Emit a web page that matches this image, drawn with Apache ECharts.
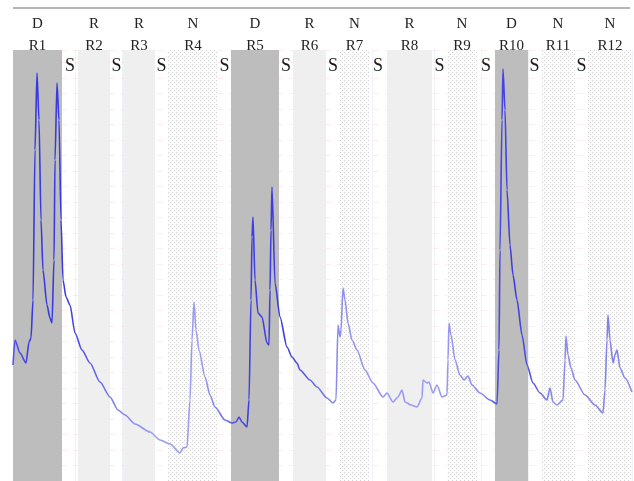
<!DOCTYPE html>
<html><head><meta charset="utf-8">
<script src="https://cdn.jsdelivr.net/npm/echarts@6/dist/echarts.min.js"></script>
<style>html,body{margin:0;padding:0;background:#fff}#c{width:634px;height:481px}</style>
</head><body><div id="c"></div>
<script>
// ---- data ----
const phaseTypes = ['D','R','R','N','D','R','N','R','N','D','N','N'];
const phaseNames = ['R1','R2','R3','R4','R5','R6','R7','R8','R9','R10','R11','R12'];
const phaseStart = [0, 65, 110, 155, 218, 280, 327, 374, 434, 482, 528, 575];
const phaseEnd   = [49, 97, 142, 205, 266, 313, 356, 419, 464, 515, 562, 619];
const gapLabel = 'S';
const timeVals = [0,2,7,13,16,18,20,22,24,26,28,30,34,37,39,41,42,44,46,48,50,53,57,62,69,77,87,97,105,112,122,137,147,157,167,170,174,177,179,181,183,186,192,197,202,212,219,223,226,229,234,236,238,239,240,242,245,249,254,256,257,258,259,262,267,274,279,284,287,297,304,314,320,323,325,327,328,330,332,335,339,344,352,360,370,374,380,385,389,392,398,404,409,410,414,416,420,424,429,434,435,436,438,442,447,451,455,459,467,477,484,486,487,489,490,492,494,497,500,504,509,514,520,527,534,537,540,544,550,552,553,555,558,562,572,582,590,592,594,595,597,600,602,604,607,612,619];
const signalVals = [116,141,128,118,139,143,181,331,408,361,261,211,176,163,158,221,321,398,361,261,201,184,176,148,131,118,99,84,71,66,57,49,41,37,28,33,34,81,141,179,151,131,104,86,74,61,58,59,64,59,54,81,181,244,264,201,168,164,138,136,191,251,294,198,164,134,124,118,111,101,94,83,78,81,156,144,151,193,181,158,141,131,111,98,84,88,79,84,91,79,76,74,83,101,98,99,88,96,84,86,121,158,146,121,106,101,105,96,88,81,77,131,231,361,412,371,291,236,206,181,146,116,98,88,81,93,79,76,81,121,145,126,113,101,86,76,68,91,141,166,141,118,126,131,113,103,89];

// ---- styles ----
const X_MAX = 619, Y_MAX = 431;
function dotPattern(){
  const c = document.createElement('canvas'); c.width = 4; c.height = 4;
  const g = c.getContext('2d');
  g.fillStyle = '#fcfcfc'; g.fillRect(0,0,4,4);
  g.fillStyle = '#d2d2d2'; g.fillRect(0,0,1,1); g.fillRect(2,2,1,1);
  return c;
}
const pat = dotPattern();
const bandColor = t => t === 'D' ? '#bdbdbd' : (t === 'R' ? '#efefef' : {image: pat, repeat: 'repeat'});
const serif = '"Liberation Serif", "DejaVu Serif", serif';

const phaseAreas = phaseTypes.map((t, i) => [
  { xAxis: phaseStart[i], name: t + '\n' + phaseNames[i], itemStyle: { color: bandColor(t) },
    label: { show: true, position: 'top', distance: -7, formatter: p => p.name,
      fontFamily: serif, fontSize: 15, lineHeight: 22, color: '#222', align: 'center' } },
  { xAxis: phaseEnd[i] }
]);
const gapAreas = [];
for (let i = 0; i < phaseEnd.length - 1; i++) {
  gapAreas.push([
    { xAxis: phaseEnd[i], name: gapLabel, itemStyle: { color: 'rgba(255,255,255,0)' },
      label: { show: true, position: 'insideTop', distance: 7, formatter: p => p.name,
        fontFamily: serif, fontSize: 18, color: '#1a1a1a' } },
    { xAxis: phaseStart[i + 1] }
  ]);
}

const stops = [
  [0,'#5a5ae6'],[20,'#3838e0'],[55,'#3a3ae0'],[100,'#7a7aee'],[140,'#9a9af4'],[190,'#9c9cf4'],
  [215,'#6a6ae8'],[230,'#4040e0'],[270,'#3c3ce0'],[300,'#6a6ae8'],[325,'#8c8cf0'],[340,'#9494f2'],
  [420,'#9c9cf4'],[470,'#8a8af0'],[484,'#4848e2'],[500,'#3a3ae0'],[520,'#5a5ae6'],[540,'#9090f0'],
  [560,'#8888ee'],[600,'#8080ee'],[619,'#9090f0']
].map(s => ({ offset: s[0] / X_MAX, color: s[1] }));

const chart = echarts.init(document.getElementById('c'), null, { renderer: 'canvas' });
chart.setOption({
  animation: false,
  backgroundColor: '#fff',
  grid: { left: 13, right: 2, top: 50, bottom: 0 },
  xAxis: { type: 'value', min: 0, max: X_MAX, interval: 15.6, z: 1,
    axisLine: { show: false }, axisTick: { show: false }, axisLabel: { show: false },
    splitLine: { show: true, lineStyle: { color: 'rgba(150,150,235,0.13)', width: 1 } } },
  yAxis: { type: 'value', min: 0, max: Y_MAX, interval: 15.5, z: 1,
    axisLine: { show: false }, axisTick: { show: false }, axisLabel: { show: false },
    splitLine: { show: true, lineStyle: { color: 'rgba(240,140,140,0.16)', width: 1, type: [6, 6] } } },
  graphic: [{ type: 'line', shape: { x1: 13, y1: 8, x2: 630, y2: 8 },
    style: { stroke: '#b4b4b4', lineWidth: 2 }, silent: true }],
  series: [
    { type: 'line', z: 0, data: [], silent: true,
      markArea: { silent: true, data: phaseAreas.concat(gapAreas) } },
    { type: 'line', z: 3, showSymbol: false, silent: true, smooth: 0.25, smoothMonotone: 'x',
      data: timeVals.map((t, i) => [t, signalVals[i]]),
      lineStyle: { width: 1.6, color: new echarts.graphic.LinearGradient(0, 0, 1, 0, stops) } }
  ]
});
</script></body></html>
